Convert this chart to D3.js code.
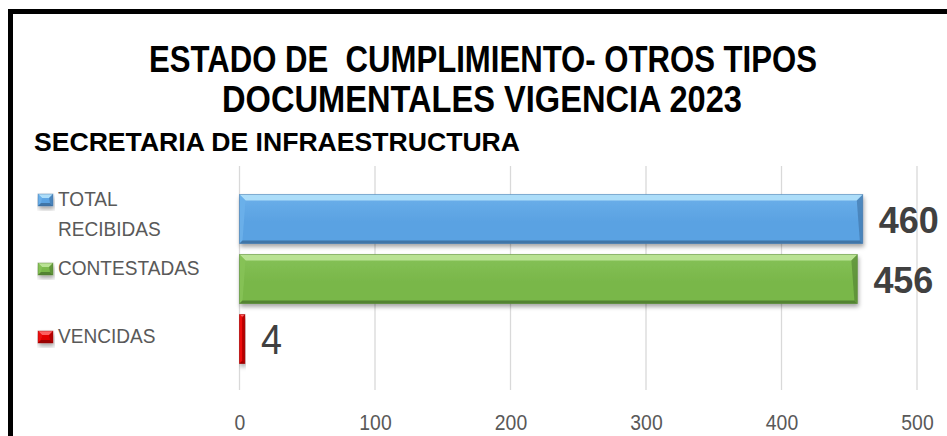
<!DOCTYPE html>
<html>
<head>
<meta charset="utf-8">
<script src="https://cdn.jsdelivr.net/npm/d3@7"></script>
<style>
  html, body { margin: 0; padding: 0; background: #fff; }
  svg { display: block; }
  text { white-space: pre; }
</style>
</head>
<body>
<svg id="chart" width="947" height="436"></svg>
<script>
// Chart content
const titleLines = ["ESTADO DE  CUMPLIMIENTO- OTROS TIPOS", "DOCUMENTALES VIGENCIA 2023"];
const subtitle = "SECRETARIA DE INFRAESTRUCTURA";
const categories = ["TOTAL RECIBIDAS", "CONTESTADAS", "VENCIDAS"];
const legendLines = [["TOTAL", "RECIBIDAS"], ["CONTESTADAS"], ["VENCIDAS"]];
const values = [460, 456, 4];
const tickValues = [0, 100, 200, 300, 400, 500];

// Palette per category: light facet, body, dark edge
const palettes = [
  { light: "#b4e2fb", body: "#5aa2e2", mid: "#6cb0ea", dark: "#3b6c9c" },
  { light: "#bfe69a", body: "#79b74a", mid: "#86c257", dark: "#4c7a2e" },
  { light: "#ff6a6a", body: "#e00000", mid: "#ee1010", dark: "#8e0000" }
];

const svg = d3.select("#chart");
const defs = svg.append("defs");

const shadow = defs.append("filter").attr("id", "barShadow")
  .attr("x", "-5%").attr("y", "-20%").attr("width", "115%").attr("height", "160%");
shadow.append("feDropShadow").attr("dx", 1).attr("dy", 3).attr("stdDeviation", 2)
  .attr("flood-color", "#000").attr("flood-opacity", 0.35);

palettes.forEach((p, i) => {
  const g = defs.append("linearGradient").attr("id", "body" + i)
    .attr("x1", 0).attr("y1", 0).attr("x2", 0).attr("y2", 1);
  g.append("stop").attr("offset", "0%").attr("stop-color", p.mid);
  g.append("stop").attr("offset", "55%").attr("stop-color", p.body);
  g.append("stop").attr("offset", "100%").attr("stop-color", p.body);
});

// Frame
svg.append("path")
  .attr("d", "M10.5,445 V11.5 H955")
  .attr("fill", "none").attr("stroke", "#000").attr("stroke-width", 5);

// Titles
const title = svg.append("g").attr("font-family", "'Liberation Sans Narrow', 'Liberation Sans', Arial, sans-serif")
  .attr("font-weight", "bold").attr("fill", "#000");
title.append("text").attr("x", 483).attr("y", 72).attr("text-anchor", "middle")
  .attr("font-size", 37).attr("textLength", 668).attr("lengthAdjust", "spacingAndGlyphs")
  .text(titleLines[0]);
title.append("text").attr("x", 482).attr("y", 112).attr("text-anchor", "middle")
  .attr("font-size", 37).attr("textLength", 520).attr("lengthAdjust", "spacingAndGlyphs")
  .text(titleLines[1]);

svg.append("text").attr("x", 34).attr("y", 151)
  .attr("font-family", "'Liberation Sans', Arial, sans-serif").attr("font-weight", "bold")
  .attr("font-size", 26).attr("textLength", 486).attr("lengthAdjust", "spacingAndGlyphs")
  .attr("fill", "#000").text(subtitle);

// Scales
const x = d3.scaleLinear().domain([0, 500]).range([239.5, 917]);
const y = d3.scaleBand().domain(categories).range([189, 369]).paddingInner(0.18).paddingOuter(0.09);

// Gridlines
const gridTop = 166, gridBottom = 390;
svg.append("g").selectAll("line").data(tickValues).join("line")
  .attr("x1", d => x(d)).attr("x2", d => x(d))
  .attr("y1", gridTop).attr("y2", gridBottom)
  .attr("stroke", "#d9d9d9").attr("stroke-width", 1.3);

// Axis tick labels
const axis = d3.axisBottom(x).tickValues(tickValues).tickSize(0).tickPadding(0);
const axisG = svg.append("g").attr("transform", `translate(0, 414)`).call(axis);
axisG.select(".domain").remove();
axisG.selectAll("text")
  .attr("font-family", "'Liberation Sans Narrow', 'Liberation Sans', Arial, sans-serif")
  .attr("font-size", 22).attr("fill", "#595959").attr("dy", "0.72em")
  .each(function () {
    const len = this.getComputedTextLength();
    d3.select(this).attr("textLength", len * 0.88).attr("lengthAdjust", "spacingAndGlyphs");
  });

// Bevelled bar
function bevelBar(g, x0, y0, w, h, i, bevelTop) {
  const p = palettes[i];
  const b = Math.min(bevelTop, w / 2, h / 2);
  const x1 = x0 + w, y1 = y0 + h;
  const bb = Math.min(3, w / 2);
  const grp = g.append("g").attr("filter", "url(#barShadow)");
  grp.append("rect").attr("x", x0).attr("y", y0).attr("width", w).attr("height", h)
    .attr("fill", `url(#body${i})`);
  // top facet
  grp.append("polygon")
    .attr("points", [[x0, y0], [x1, y0], [x1 - b, y0 + b], [x0 + b, y0 + b]].join(" "))
    .attr("fill", p.light).attr("opacity", 0.9);
  // left facet
  grp.append("polygon")
    .attr("points", [[x0, y0], [x0 + b, y0 + b], [x0 + bb, y1 - bb], [x0, y1]].join(" "))
    .attr("fill", p.mid).attr("opacity", 0.9);
  // right facet
  grp.append("polygon")
    .attr("points", [[x1, y0], [x1, y1], [x1 - bb, y1 - bb], [x1 - b, y0 + b]].join(" "))
    .attr("fill", p.dark).attr("opacity", 0.55);
  // bottom facet
  grp.append("polygon")
    .attr("points", [[x0, y1], [x0 + bb, y1 - bb], [x1 - bb, y1 - bb], [x1, y1]].join(" "))
    .attr("fill", p.dark).attr("opacity", 0.85);
  grp.append("rect").attr("x", x0).attr("y", y0).attr("width", w).attr("height", h)
    .attr("fill", "none").attr("stroke", p.dark).attr("stroke-opacity", 0.5).attr("stroke-width", 0.8);
}

const bars = svg.append("g");
categories.forEach((c, i) => {
  bevelBar(bars, x(0), y(c), x(values[i]) - x(0), y.bandwidth(), i, 6);
});

// Value labels
const labels = svg.append("g");
categories.forEach((c, i) => {
  const big = values[i] >= 100;
  const t = labels.append("text")
    .attr("x", x(values[i]) + 16)
    .attr("y", y(c) + y.bandwidth() / 2 + (big ? 13.5 : 15))
    .attr("fill", "#404040")
    .text(values[i]);
  if (big) {
    t.attr("font-family", "'Liberation Sans Narrow', 'Liberation Sans', Arial, sans-serif")
      .attr("font-weight", "bold").attr("font-size", 36)
      .attr("textLength", 60).attr("lengthAdjust", "spacingAndGlyphs");
  } else {
    t.attr("font-family", "'Liberation Sans', Arial, sans-serif")
      .attr("font-size", 42).attr("textLength", 21).attr("lengthAdjust", "spacingAndGlyphs");
  }
});

// Legend
const legend = svg.append("g").attr("font-family", "'Liberation Sans', Arial, sans-serif")
  .attr("font-size", 20.5).attr("fill", "#595959");
const legendRows = [206, 275, 343];
legendLines.forEach((lines, i) => {
  bevelBar(legend, 38, legendRows[i] - 12, 15, 12, i, 4);
  lines.forEach((ln, k) => {
    legend.append("text").attr("x", 58).attr("y", legendRows[i] + k * 30).text(ln)
      .each(function () {
        const len = this.getComputedTextLength();
        d3.select(this).attr("textLength", len * 0.93).attr("lengthAdjust", "spacingAndGlyphs");
      });
  });
});
</script>
</body>
</html>
